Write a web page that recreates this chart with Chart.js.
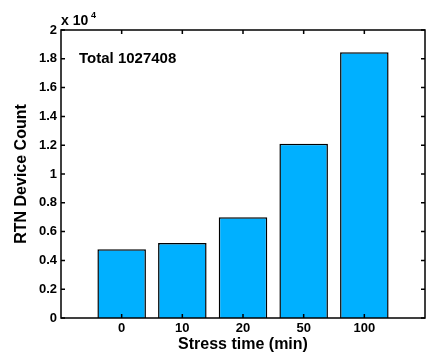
<!DOCTYPE html>
<html>
<head>
<meta charset="utf-8">
<script src="https://cdn.jsdelivr.net/npm/chart.js@4"></script>
<style>
  html, body { margin: 0; padding: 0; background: #fff; }
  #wrap { width: 435px; height: 354px; }
</style>
</head>
<body>
<div id="wrap"><canvas id="rtnchart" width="435" height="354"></canvas></div>
<script>
const stressTimes = ["0", "10", "20", "50", "100"];
const deviceCounts = [4770, 5200, 7000, 12100, 18450];
const yTicks = [0, 2000, 4000, 6000, 8000, 10000, 12000, 14000, 16000, 18000, 20000];
const totalLabel = "Total 1027408";

const FONT = "'Liberation Sans', Arial, sans-serif";

// frame, inward ticks and annotations in the MATLAB style
const framePlugin = {
  id: "frame",
  afterDatasetsDraw(chart) {
    const { ctx, chartArea: a, scales } = chart;
    ctx.save();
    ctx.strokeStyle = "#000";
    ctx.lineWidth = 1.5;
    ctx.strokeRect(a.left, a.top, a.right - a.left, a.bottom - a.top);
    ctx.beginPath();
    yTicks.forEach(function (v) {
      const y = scales.y.getPixelForValue(v);
      ctx.moveTo(a.left, y); ctx.lineTo(a.left + 4, y);
      ctx.moveTo(a.right, y); ctx.lineTo(a.right - 4, y);
    });
    stressTimes.forEach(function (s, i) {
      const x = scales.x.getPixelForValue(i + 1);
      ctx.moveTo(x, a.top); ctx.lineTo(x, a.top + 4);
      ctx.moveTo(x, a.bottom); ctx.lineTo(x, a.bottom - 4);
    });
    ctx.stroke();

    ctx.fillStyle = "#000";
    ctx.font = "bold 15px " + FONT;
    ctx.textBaseline = "middle";
    ctx.textAlign = "left";
    ctx.fillText(totalLabel, a.left + 18, a.top + 29);
    // exponent label
    ctx.font = "bold 14px " + FONT;
    ctx.fillText("x 10", a.left, a.top - 9);
    ctx.font = "bold 9px " + FONT;
    ctx.fillText("4", a.left + 30, a.top - 14);
    ctx.restore();
  }
};

const ctx = document.getElementById("rtnchart").getContext("2d");
const rtnchart = new Chart(ctx, {
  type: "bar",
  data: {
    datasets: [
      {
        data: deviceCounts.map(function (v, i) { return { x: i + 1, y: v }; }),
        backgroundColor: "#00B0FF",
        borderColor: "#000",
        borderWidth: 1.5,
        barPercentage: 1,
        categoryPercentage: 0.8,
      },
    ],
  },
  options: {
    responsive: false,
    animation: false,
    layout: { padding: { left: 0, right: 10, top: 30, bottom: 0 } },
    plugins: { legend: { display: false }, tooltip: { enabled: false } },
    scales: {
      x: {
        type: "linear",
        min: 0,
        max: 6,
        offset: false,
        grid: { display: false, drawTicks: false, tickLength: 0 },
        border: { display: false },
        afterBuildTicks: function (scale) {
          scale.ticks = stressTimes.map(function (s, i) { return { value: i + 1 }; });
        },
        afterFit: function (scale) { scale.height = 36; },
        ticks: {
          color: "#000",
          font: { family: FONT, weight: "bold", size: 13 },
          padding: 3,
          maxRotation: 0,
          callback: function (v) { return stressTimes[v - 1]; },
        },
        title: {
          display: true,
          text: "Stress time (min)",
          color: "#000",
          font: { family: FONT, weight: "bold", size: 16 },
          padding: { top: 0, bottom: 0 },
        },
      },
      y: {
        min: 0,
        max: 20000,
        grid: { display: false, drawTicks: false, tickLength: 0 },
        border: { display: false },
        afterBuildTicks: function (scale) {
          scale.ticks = yTicks.map(function (v) { return { value: v }; });
        },
        afterFit: function (scale) { scale.width = 61; },
        ticks: {
          color: "#000",
          font: { family: FONT, weight: "bold", size: 13 },
          padding: 4,
          callback: function (v) { return String(+(v / 10000).toFixed(1)); },
        },
        title: {
          display: true,
          text: "RTN Device Count",
          color: "#000",
          font: { family: FONT, weight: "bold", size: 16 },
          padding: { top: 12, bottom: 0 },
        },
      },
    },
  },
  plugins: [framePlugin],
});
</script>
</body>
</html>
